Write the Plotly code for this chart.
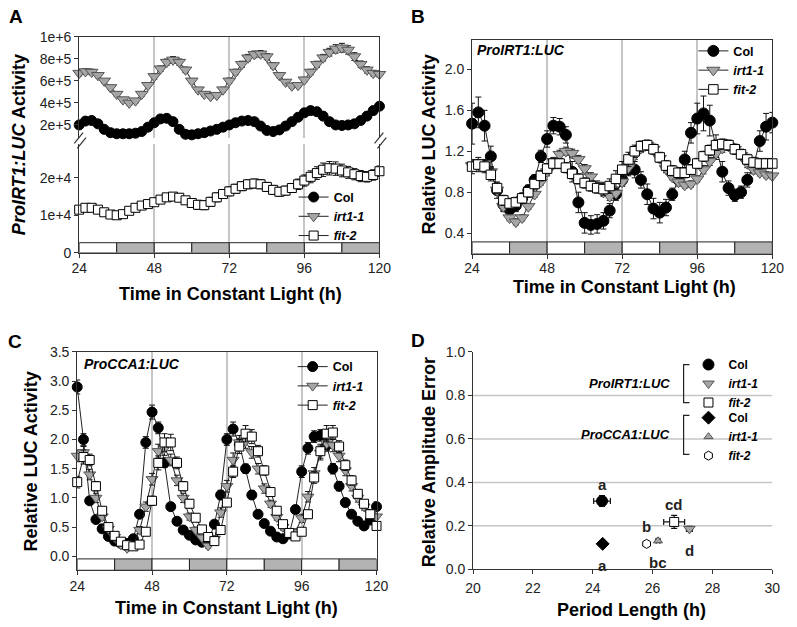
import plotly.graph_objects as go

W, H = 797, 627
FONT = "Liberation Sans, Arial, sans-serif"


def fx(p):
    return p / W


def fy(p):
    return 1 - p / H


# ---------------- data ----------------
time_h = [24, 26, 28, 30, 32, 34, 36, 38, 40, 42,
          44, 46, 48, 50, 52, 54, 56, 58, 60, 62,
          64, 66, 68, 70, 72, 74, 76, 78, 80, 82,
          84, 86, 88, 90, 92, 94, 96, 98, 100, 102,
          104, 106, 108, 110, 112, 114, 116, 118, 120]

# Panel A: ProIRT1:LUC activity (Col, irt1-1 in units of 1e5; fit-2 in units of 1e4)
a_col_e5 = [2.0, 2.35, 2.4, 2.1, 1.6, 1.3, 1.2, 1.2, 1.2, 1.25,
            1.4, 1.8, 2.2, 2.55, 2.6, 2.3, 1.6, 1.15, 1.1, 1.2,
            1.3, 1.45, 1.6, 1.8, 2.0, 2.2, 2.35, 2.4, 2.3, 1.9,
            1.5, 1.4, 1.55, 1.9, 2.3, 2.7, 3.1, 3.3, 3.2, 2.8,
            2.3, 2.0, 1.95, 2.0, 2.1, 2.4, 2.8, 3.3, 3.7]
a_col_err_e5 = [0.08, 0.08, 0.08, 0.07, 0.07, 0.06, 0.06, 0.06, 0.06, 0.06,
                0.07, 0.07, 0.08, 0.08, 0.08, 0.08, 0.07, 0.06, 0.06, 0.06,
                0.06, 0.06, 0.07, 0.07, 0.08, 0.08, 0.08, 0.08, 0.08, 0.07,
                0.07, 0.07, 0.07, 0.08, 0.08, 0.09, 0.1, 0.1, 0.1, 0.09,
                0.08, 0.08, 0.08, 0.08, 0.08, 0.09, 0.1, 0.1, 0.1]
a_irt_e5 = [6.7, 6.85, 6.8, 6.5, 6.0, 5.4, 4.8, 4.3, 4.0, 4.2,
            4.8, 5.6, 6.4, 7.1, 7.7, 7.9, 7.7, 7.0, 6.0, 5.2,
            4.8, 4.6, 4.7, 5.2, 6.0, 6.8, 7.5, 8.1, 8.4, 8.45,
            8.2, 7.4, 6.5, 5.9, 5.55, 5.6, 6.1, 6.8, 7.5, 8.1,
            8.6, 8.9, 9.0, 8.8, 8.2, 7.5, 7.0, 6.7, 6.6]
a_irt_err_e5 = [0.25, 0.25, 0.25, 0.22, 0.2, 0.2, 0.2, 0.2, 0.2, 0.2,
                0.2, 0.22, 0.25, 0.25, 0.28, 0.3, 0.28, 0.25, 0.22, 0.2,
                0.2, 0.2, 0.2, 0.22, 0.25, 0.25, 0.28, 0.3, 0.3, 0.3,
                0.28, 0.25, 0.22, 0.2, 0.2, 0.2, 0.22, 0.25, 0.28, 0.3,
                0.35, 0.38, 0.4, 0.38, 0.35, 0.3, 0.28, 0.25, 0.25]
a_fit_e4 = [1.15, 1.2, 1.2, 1.15, 1.08, 1.02, 1.0, 1.03, 1.12, 1.2,
            1.26, 1.3, 1.35, 1.42, 1.48, 1.5, 1.47, 1.4, 1.33, 1.28,
            1.27, 1.36, 1.48, 1.57, 1.64, 1.71, 1.78, 1.83, 1.85, 1.83,
            1.76, 1.68, 1.63, 1.66, 1.73, 1.83, 1.93, 2.03, 2.13, 2.22,
            2.26, 2.25, 2.2, 2.15, 2.1, 2.05, 2.03, 2.08, 2.18]
a_fit_err_e4 = [0.08, 0.08, 0.08, 0.08, 0.07, 0.07, 0.07, 0.07, 0.08, 0.08,
                0.08, 0.08, 0.08, 0.1, 0.1, 0.1, 0.1, 0.1, 0.1, 0.12,
                0.12, 0.12, 0.12, 0.12, 0.12, 0.12, 0.12, 0.12, 0.12, 0.12,
                0.12, 0.12, 0.12, 0.12, 0.12, 0.14, 0.15, 0.16, 0.17, 0.18,
                0.18, 0.18, 0.17, 0.16, 0.15, 0.15, 0.14, 0.14, 0.14]

# Panel B: ProIRT1:LUC relative activity
b_col = [1.47, 1.58, 1.45, 1.15, 0.82, 0.68, 0.63, 0.67, 0.74, 0.82,
         0.92, 1.15, 1.32, 1.45, 1.44, 1.36, 1.0, 0.7, 0.5, 0.48,
         0.49, 0.52, 0.62, 0.78, 0.92, 1.02, 1.02, 0.92, 0.78, 0.64,
         0.6, 0.65, 0.78, 0.92, 1.12, 1.38, 1.52, 1.57, 1.5, 1.24,
         1.0, 0.84, 0.77, 0.8, 0.92, 1.06, 1.3, 1.44, 1.48]
b_col_err = [0.2, 0.15, 0.15, 0.1, 0.08, 0.07, 0.07, 0.06, 0.05, 0.05,
             0.05, 0.06, 0.08, 0.08, 0.08, 0.08, 0.1, 0.1, 0.1, 0.09,
             0.09, 0.08, 0.07, 0.06, 0.06, 0.06, 0.08, 0.08, 0.1, 0.1,
             0.1, 0.08, 0.06, 0.06, 0.08, 0.1, 0.15, 0.17, 0.15, 0.12,
             0.1, 0.07, 0.06, 0.06, 0.07, 0.08, 0.1, 0.13, 0.1]
b_irt = [1.06, 1.08, 1.08, 1.0, 0.82, 0.66, 0.55, 0.51, 0.55, 0.66,
         0.78, 0.9, 1.0, 1.1, 1.17, 1.2, 1.18, 1.12, 1.03, 0.95,
         0.87, 0.8, 0.76, 0.79, 0.9, 1.04, 1.16, 1.23, 1.26, 1.22,
         1.13, 1.03, 0.95, 0.9, 0.87, 0.88, 0.93, 1.02, 1.1, 1.18,
         1.23, 1.25, 1.22, 1.16, 1.08, 1.02, 0.99, 0.97, 0.96]
b_irt_err = [0.04, 0.04, 0.04, 0.04, 0.04, 0.04, 0.03, 0.03, 0.03, 0.03,
             0.03, 0.03, 0.04, 0.04, 0.04, 0.04, 0.04, 0.04, 0.04, 0.04,
             0.04, 0.04, 0.04, 0.04, 0.04, 0.04, 0.04, 0.04, 0.04, 0.04,
             0.04, 0.04, 0.03, 0.03, 0.03, 0.03, 0.03, 0.04, 0.04, 0.04,
             0.04, 0.04, 0.04, 0.04, 0.04, 0.03, 0.03, 0.03, 0.03]
b_fit = [1.05, 1.07, 1.05, 0.97, 0.84, 0.72, 0.69, 0.70, 0.74, 0.8,
         0.88, 0.96, 1.03, 1.08, 1.08, 1.04, 0.98, 0.93, 0.89, 0.86,
         0.84, 0.83, 0.86, 0.93, 1.02, 1.12, 1.2, 1.25, 1.26, 1.22,
         1.14, 1.06, 1.01, 0.99, 0.99, 1.02, 1.08, 1.15, 1.21, 1.26,
         1.27, 1.26, 1.22, 1.17, 1.12, 1.09, 1.08, 1.08, 1.08]
b_fit_err = [0.07, 0.07, 0.06, 0.06, 0.05, 0.05, 0.05, 0.05, 0.05, 0.05,
             0.05, 0.05, 0.05, 0.05, 0.05, 0.05, 0.05, 0.05, 0.05, 0.05,
             0.05, 0.06, 0.07, 0.08, 0.08, 0.07, 0.06, 0.05, 0.05, 0.05,
             0.05, 0.05, 0.05, 0.05, 0.05, 0.05, 0.05, 0.05, 0.05, 0.05,
             0.05, 0.05, 0.05, 0.05, 0.05, 0.05, 0.05, 0.05, 0.05]

# Panel C: ProCCA1:LUC relative activity
c_col = [2.9, 2.0, 0.95, 0.63, 0.47, 0.34, 0.26, 0.22, 0.22, 0.3,
         0.72, 1.95, 2.47, 2.2, 1.6, 0.85, 0.6, 0.45, 0.36, 0.28,
         0.24, 0.24, 0.55, 1.05, 2.0, 2.18, 1.92, 1.5, 1.05, 0.72,
         0.56, 0.43, 0.33, 0.3, 0.38, 0.8, 1.45, 1.85, 2.05, 2.07,
         1.9, 1.5, 1.2, 0.92, 0.72, 0.6, 0.52, 0.62, 0.85]
c_col_err = [0.12, 0.1, 0.06, 0.05, 0.04, 0.04, 0.03, 0.03, 0.03, 0.04,
             0.06, 0.1, 0.12, 0.1, 0.08, 0.06, 0.05, 0.04, 0.04, 0.03,
             0.03, 0.04, 0.06, 0.08, 0.1, 0.12, 0.1, 0.08, 0.07, 0.06,
             0.05, 0.04, 0.04, 0.04, 0.05, 0.07, 0.1, 0.1, 0.1, 0.1,
             0.1, 0.09, 0.08, 0.07, 0.06, 0.05, 0.05, 0.06, 0.08]
c_irt = [1.72, 1.78, 1.4, 1.0, 0.68, 0.47, 0.33, 0.2, 0.14, 0.2,
         0.45, 0.85, 1.32, 1.8, 1.85, 1.65, 1.3, 1.0, 0.68, 0.45,
         0.32, 0.18, 0.3, 0.75, 1.2, 1.65, 1.95, 1.97, 1.78, 1.5,
         1.16, 0.9, 0.67, 0.5, 0.4, 0.42, 0.65, 1.02, 1.42, 1.77,
         1.93, 1.9, 1.72, 1.47, 1.2, 1.0, 0.85, 0.74, 0.68]
c_irt_err = [0.1, 0.1, 0.09, 0.08, 0.06, 0.05, 0.04, 0.04, 0.04, 0.04,
             0.06, 0.08, 0.1, 0.12, 0.12, 0.1, 0.09, 0.08, 0.06, 0.05,
             0.04, 0.04, 0.05, 0.08, 0.1, 0.12, 0.12, 0.12, 0.1, 0.09,
             0.08, 0.06, 0.05, 0.05, 0.04, 0.05, 0.07, 0.09, 0.1, 0.12,
             0.12, 0.11, 0.1, 0.09, 0.08, 0.07, 0.06, 0.06, 0.06]
c_fit = [1.27, 1.7, 1.65, 1.2, 0.78, 0.5, 0.35, 0.25, 0.19, 0.17,
         0.2, 0.42, 0.95, 1.6, 1.95, 1.95, 1.6, 1.2, 0.9, 0.66,
         0.46, 0.33, 0.26, 0.45, 0.92, 1.45, 1.88, 2.1, 2.05, 1.8,
         1.47, 1.1, 0.78, 0.55, 0.4, 0.34, 0.42, 0.72, 1.35, 1.8,
         2.1, 2.12, 1.88, 1.56, 1.3, 1.07, 0.9, 0.72, 0.52]
c_fit_err = [0.1, 0.12, 0.1, 0.08, 0.06, 0.05, 0.04, 0.04, 0.04, 0.04,
             0.04, 0.05, 0.08, 0.12, 0.15, 0.14, 0.1, 0.08, 0.07, 0.06,
             0.05, 0.04, 0.04, 0.05, 0.07, 0.1, 0.12, 0.14, 0.12, 0.1,
             0.08, 0.07, 0.05, 0.05, 0.04, 0.04, 0.05, 0.07, 0.1, 0.12,
             0.14, 0.12, 0.1, 0.09, 0.08, 0.07, 0.06, 0.06, 0.06]

# Subjective day / night bars
cycle_edges = [24, 36, 48, 60, 72, 84, 96, 108, 120]
cycle_phase = ['day', 'night', 'day', 'night', 'day', 'night', 'day', 'night']

# Panel D: period vs relative amplitude error
d_reporter = ['ProIRT1:LUC', 'ProIRT1:LUC', 'ProIRT1:LUC',
              'ProCCA1:LUC', 'ProCCA1:LUC', 'ProCCA1:LUC']
d_genotype = ['Col', 'irt1-1', 'fit-2', 'Col', 'irt1-1', 'fit-2']
d_period = [24.31, 27.23, 26.72, 24.33, 26.18, 25.8]
d_period_err = [0.28, 0.1, 0.35, 0.06, 0.06, 0.07]
d_rae = [0.314, 0.186, 0.218, 0.117, 0.131, 0.117]
d_rae_err = [0.025, 0.012, 0.03, 0.006, 0.007, 0.008]
d_letters = ['a', 'd', 'cd', 'a', 'bc', 'b']
d_letter_side = ['above', 'below', 'above', 'below', 'below', 'above']

# ---------------- styling ----------------
GRAY_FILL = '#a6a6a6'
style = {
    'Col': dict(symbol='circle', color='black', line=dict(color='black', width=1)),
    'irt1-1': dict(symbol='triangle-down', color=GRAY_FILL, line=dict(color='#555555', width=1)),
    'fit-2': dict(symbol='square', color='white', line=dict(color='black', width=1)),
}
sizes = {'Col': 10, 'irt1-1': 11, 'fit-2': 9}


def label(g):
    return '<b>Col</b>' if g == 'Col' else '<b><i>%s</i></b>' % g


fig = go.Figure()


def add_series(y, err, g, xa, ya, legend, scale=1.0):
    st = style[g]
    fig.add_trace(go.Scatter(
        x=time_h, y=y, mode='lines+markers', name=label(g),
        xaxis=xa, yaxis=ya, legend=legend, cliponaxis=False,
        line=dict(color='#222222', width=1),
        marker=dict(symbol=st['symbol'], color=st['color'], line=st['line'],
                    size=sizes[g] * scale),
        error_y=dict(type='data', array=err, color='#111111', thickness=1, width=3),
    ))


# Panel A
add_series([v * 1e5 for v in a_col_e5], [v * 1e5 for v in a_col_err_e5], 'Col', 'x2', 'y', 'legend')
add_series([v * 1e5 for v in a_irt_e5], [v * 1e5 for v in a_irt_err_e5], 'irt1-1', 'x2', 'y', 'legend')
add_series([v * 1e4 for v in a_fit_e4], [v * 1e4 for v in a_fit_err_e4], 'fit-2', 'x', 'y2', 'legend')
# Panel B
add_series(b_col, b_col_err, 'Col', 'x3', 'y3', 'legend2', 1.1)
add_series(b_irt, b_irt_err, 'irt1-1', 'x3', 'y3', 'legend2', 1.05)
add_series(b_fit, b_fit_err, 'fit-2', 'x3', 'y3', 'legend2', 1.05)
# Panel C
add_series(c_col, c_col_err, 'Col', 'x4', 'y4', 'legend3', 1.0)
add_series(c_irt, c_irt_err, 'irt1-1', 'x4', 'y4', 'legend3', 0.95)
add_series(c_fit, c_fit_err, 'fit-2', 'x4', 'y4', 'legend3', 1.0)

# Panel D
d_marker = [
    dict(symbol='circle', color='black', line=dict(color='black', width=1), size=11),
    dict(symbol='triangle-down', color=GRAY_FILL, line=dict(color='#555555', width=1), size=10),
    dict(symbol='square', color='white', line=dict(color='black', width=1), size=9),
    dict(symbol='diamond', color='black', line=dict(color='black', width=1), size=10),
    dict(symbol='triangle-up', color=GRAY_FILL, line=dict(color='#555555', width=1), size=8),
    dict(symbol='hexagon', color='white', line=dict(color='black', width=1), size=9),
]
for i in range(len(d_period)):
    fig.add_trace(go.Scatter(
        x=[d_period[i]], y=[d_rae[i]], mode='markers', name=label(d_genotype[i]),
        xaxis='x5', yaxis='y5', cliponaxis=False,
        legend='legend4' if d_reporter[i] == 'ProIRT1:LUC' else 'legend5',
        marker=d_marker[i],
        error_x=dict(type='data', array=[d_period_err[i]], color='#111111', thickness=1.2, width=3),
        error_y=dict(type='data', array=[d_rae_err[i]], color='#111111', thickness=1.2, width=3),
    ))

# ---------------- axes ----------------
tick_font = dict(family=FONT, size=14, color='#222222')
common = dict(showline=True, linecolor='#333333', linewidth=1, ticks='outside', ticklen=4,
              tickcolor='#333333', zeroline=False, tickfont=tick_font)
time_ticks = [24, 48, 72, 96, 120]
grid = dict(showgrid=True, gridcolor='#c6c6c6', gridwidth=1.5)

A_L, A_R = 73, 381
fig.update_layout(
    xaxis=dict(domain=[fx(A_L), fx(A_R)], range=[24, 120], anchor='y2', tickvals=time_ticks,
               ticklabelstandoff=-1, **grid, **common),
    xaxis2=dict(domain=[fx(A_L), fx(A_R)], range=[24, 120], anchor='y', matches='x', side='top',
                tickvals=time_ticks, showticklabels=False, showline=True, linecolor='#333333',
                ticks='', zeroline=False, **grid),
    yaxis=dict(domain=[fy(133), fy(29.5)], range=[85100, 1e6], anchor='x2', mirror=True,
               tickvals=[2e5, 4e5, 6e5, 8e5, 1e6],
               ticktext=['2e+5', '4e+5', '6e+5', '8e+5', '1e+6'], showgrid=False, **common),
    yaxis2=dict(domain=[fy(251), fy(140)], range=[0, 28980], anchor='x', mirror=True,
                tickvals=[0, 1e4, 2e4], ticktext=['0', '1e+4', '2e+4'], showgrid=False, **common),
    xaxis3=dict(domain=[fx(476), fx(784)], range=[24, 120], anchor='y3', mirror=True,
                tickvals=time_ticks, ticklabelstandoff=-2, **grid, **common),
    yaxis3=dict(domain=[fy(252), fy(33)], range=[0.2, 2.286], anchor='x3', mirror=True,
                tickvals=[0.4, 0.8, 1.2, 1.6, 2.0], tickformat='.1f', showgrid=False, **common),
    xaxis4=dict(domain=[fx(71), fx(378)], range=[24, 120], anchor='y4', mirror=True,
                tickvals=time_ticks, ticklabelstandoff=-1, **grid, **common),
    yaxis4=dict(domain=[fy(577), fy(353)], range=[-0.24, 3.5], anchor='x4', mirror=True,
                tickvals=[0, 0.5, 1.0, 1.5, 2.0, 2.5, 3.0, 3.5], tickformat='.1f', showgrid=False,
                **common),
    xaxis5=dict(domain=[fx(477), fx(784)], range=[20, 30], anchor='y5',
                tickvals=[20, 22, 24, 26, 28, 30], showgrid=False, ticklabelstandoff=2, **common),
    yaxis5=dict(domain=[fy(576), fy(353)], range=[0, 1], anchor='x5',
                tickvals=[0, 0.2, 0.4, 0.6, 0.8, 1.0], tickformat='.1f', showgrid=False, **common),
)

# ---------------- shapes ----------------
shapes = []
bar_specs = [('x', 'y2', 0, 2650), ('x3', 'y3', 0.2, 0.314), ('x4', 'y4', -0.24, -0.045)]
for xr, yr, y0, y1 in bar_specs:
    for i, ph in enumerate(cycle_phase):
        shapes.append(dict(type='rect', xref=xr, yref=yr, x0=cycle_edges[i], x1=cycle_edges[i + 1],
                           y0=y0, y1=y1, fillcolor='white' if ph == 'day' else '#b3b3b3',
                           line=dict(color='#222222', width=1), layer='above'))

# axis break marks in panel A
for xb in (A_L, A_R):
    for dy in (0, 5):
        shapes.append(dict(type='line', xref='paper', yref='paper',
                           x0=fx(xb - 5 + dy * 0.6), y0=fy(139 + dy), x1=fx(xb + 4 + dy * 0.6), y1=fy(128 + dy),
                           line=dict(color='#333333', width=1.2)))

# panel D horizontal grid lines
for gv in [0.2, 0.4, 0.6, 0.8]:
    shapes.append(dict(type='line', xref='x5', yref='y5', x0=20, x1=30, y0=gv, y1=gv,
                       line=dict(color='#c6c6c6', width=1.5), layer='below'))

# panel D legend brackets
for top, bot in ((366, 405), (418, 458)):
    shapes.append(dict(type='path', xref='paper', yref='paper',
                       path='M %f %f L %f %f L %f %f L %f %f' % (
                           fx(699), fy(top), fx(693), fy(top), fx(693), fy(bot), fx(699), fy(bot)),
                       line=dict(color='#222222', width=1.2)))

fig.update_layout(shapes=shapes)

# ---------------- annotations ----------------
ann = []


def text(x, y, s, size=18, angle=0, xanchor='center', color='black'):
    ann.append(dict(x=fx(x), y=fy(y), xref='paper', yref='paper', text=s, showarrow=False,
                    textangle=angle, xanchor=xanchor, yanchor='middle',
                    font=dict(family=FONT, size=size, color=color)))


# panel letters
text(8.5, 9, '<b>A</b>', 19)
text(421, 9, '<b>B</b>', 19)
text(7.5, 342, '<b>C</b>', 19)
text(421, 341, '<b>D</b>', 19)

# axis titles
text(228, 294, '<b>Time in Constant Light (h)</b>')
text(632, 286, '<b>Time in Constant Light (h)</b>')
text(224, 616, '<b>Time in Constant Light (h)</b>')
text(640, 618, '<b>Period Length (h)</b>')
text(12, 140, '<b><i>ProIRT1:LUC</i> Activity</b>', angle=-90)
text(432, 140, '<b>Relative LUC Activity</b>', angle=-90)
text(24, 465, '<b>Relative LUC Activity</b>', angle=-90)
text(432, 466, '<b>Relative Amplitude Error</b>', angle=-90)

# reporter labels
text(479, 43, '<b><i>ProIRT1:LUC</i></b>', 14, xanchor='left')
text(76, 365, '<b><i>ProCCA1:LUC</i></b>', 14, xanchor='left')
text(681, 385, '<b><i>ProIRT1:LUC</i></b>', 13, xanchor='right')
text(681, 438, '<b><i>ProCCA1:LUC</i></b>', 13, xanchor='right')

# significance letters in panel D
for i in range(len(d_letters)):
    ann.append(dict(x=d_period[i], y=d_rae[i], xref='x5', yref='y5', text='<b>%s</b>' % d_letters[i],
                    showarrow=False, yshift=17 if d_letter_side[i] == 'above' else -22,
                    font=dict(family=FONT, size=15, color='#222222')))

fig.update_layout(annotations=ann)

# ---------------- legends ----------------
leg_common = dict(xanchor='left', yanchor='top', bgcolor='rgba(0,0,0,0)', borderwidth=0,
                  tracegroupgap=0)
abc_font = dict(family=FONT, size=12.5, color='black')
d_font = dict(family=FONT, size=12, color='black')
fig.update_layout(
    legend=dict(x=fx(293), y=fy(179), font=abc_font, **leg_common),
    legend2=dict(x=fx(703), y=fy(29), font=abc_font, **leg_common),
    legend3=dict(x=fx(292), y=fy(353), font=abc_font, **leg_common),
    legend4=dict(x=fx(698), y=fy(351), font=d_font, **leg_common),
    legend5=dict(x=fx(698), y=fy(405.5), font=d_font, **leg_common),
)

fig.update_layout(width=W, height=H, autosize=False, margin=dict(l=0, r=0, t=0, b=0),
                  paper_bgcolor='white', plot_bgcolor='rgba(0,0,0,0)', showlegend=True)

fig.write_html('out.html', config={'displayModeBar': False},
               post_script="document.body.style.margin='0px';")
